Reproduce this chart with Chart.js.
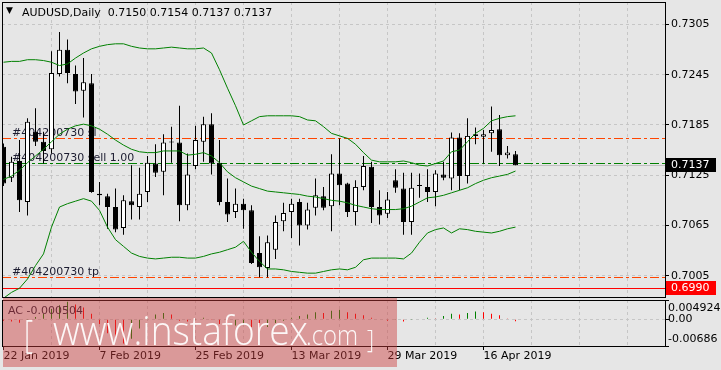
<!DOCTYPE html>
<html><head><meta charset="utf-8">
<script src="https://cdn.jsdelivr.net/npm/chart.js@4.4.1/dist/chart.umd.min.js"></script>
<style>
html,body{margin:0;padding:0;background:#e6e6e6;}
#wrap{position:relative;width:721px;height:370px;overflow:hidden;background:#e6e6e6;}
#main{position:absolute;left:0;top:0;}
#sub{position:absolute;left:0;top:298px;}
</style></head><body>
<div id="wrap"><canvas id="main" width="721" height="298"></canvas><canvas id="sub" width="721" height="72"></canvas></div>
<script>
// ---------------- data ----------------
const symbol = 'AUDUSD,Daily';
const dates = ['22 Jan 2019','23 Jan 2019','24 Jan 2019','25 Jan 2019','28 Jan 2019','29 Jan 2019','30 Jan 2019','31 Jan 2019','1 Feb 2019','4 Feb 2019',
'5 Feb 2019','6 Feb 2019','7 Feb 2019','8 Feb 2019','11 Feb 2019','12 Feb 2019','13 Feb 2019','14 Feb 2019','15 Feb 2019','18 Feb 2019',
'19 Feb 2019','20 Feb 2019','21 Feb 2019','22 Feb 2019','25 Feb 2019','26 Feb 2019','27 Feb 2019','28 Feb 2019','1 Mar 2019','4 Mar 2019',
'5 Mar 2019','6 Mar 2019','7 Mar 2019','8 Mar 2019','11 Mar 2019','12 Mar 2019','13 Mar 2019','14 Mar 2019','15 Mar 2019','18 Mar 2019',
'19 Mar 2019','20 Mar 2019','21 Mar 2019','22 Mar 2019','25 Mar 2019','26 Mar 2019','27 Mar 2019','28 Mar 2019','29 Mar 2019','1 Apr 2019',
'2 Apr 2019','3 Apr 2019','4 Apr 2019','5 Apr 2019','8 Apr 2019','9 Apr 2019','10 Apr 2019','11 Apr 2019','12 Apr 2019','15 Apr 2019',
'16 Apr 2019','17 Apr 2019','18 Apr 2019','19 Apr 2019','22 Apr 2019'];
const opens = [0.7159,0.7122,0.7142,0.7093,0.7177,0.7165,0.7156,0.7246,0.7275,0.7246,
0.7226,0.7235,0.7103,0.7100,0.7087,0.7062,0.7094,0.7087,0.7105,0.7139,
0.7129,0.7164,0.7164,0.7089,0.7136,0.7165,0.7186,0.7140,0.7093,0.7081,
0.7091,0.7083,0.7032,0.7014,0.7036,0.7070,0.7081,0.7093,0.7065,0.7086,
0.7100,0.7088,0.7127,0.7115,0.7081,0.7111,0.7135,0.7087,0.7079,0.7119,
0.7109,0.7069,0.7112,0.7111,0.7105,0.7126,0.7121,0.7170,0.7124,0.7172,
0.7171,0.7175,0.7180,0.7149,0.7150];
const highs = [0.7163,0.7147,0.7167,0.7193,0.7205,0.7177,0.7273,0.7296,0.7287,0.7256,
0.7265,0.7246,0.7117,0.7103,0.7109,0.7101,0.7137,0.7134,0.7148,0.7162,
0.7174,0.7183,0.7208,0.7151,0.7184,0.7195,0.7199,0.7167,0.7121,0.7109,
0.7097,0.7089,0.7052,0.7053,0.7077,0.7092,0.7097,0.7097,0.7092,0.7121,
0.7111,0.7150,0.7169,0.7116,0.7119,0.7148,0.7141,0.7107,0.7105,0.7132,
0.7128,0.7128,0.7127,0.7132,0.7131,0.7141,0.7176,0.7175,0.7193,0.7182,
0.7179,0.7207,0.7197,0.7160,0.7154];
const lows = [0.7112,0.7117,0.7081,0.7077,0.7160,0.7139,0.7151,0.7243,0.7235,0.7210,
0.7194,0.7104,0.7089,0.7061,0.7057,0.7054,0.7072,0.7072,0.7093,0.7123,
0.7101,0.7140,0.7070,0.7083,0.7132,0.7141,0.7126,0.7089,0.7069,0.7074,
0.7061,0.7019,0.7003,0.7003,0.7025,0.7058,0.7050,0.7041,0.7060,0.7077,
0.7083,0.7058,0.7089,0.7075,0.7065,0.7107,0.7068,0.7066,0.7074,0.7104,
0.7054,0.7054,0.7098,0.7093,0.7088,0.7119,0.7107,0.7107,0.7115,0.7162,
0.7139,0.7153,0.7136,0.7145,0.7137];
const closes = [0.7115,0.7141,0.7095,0.7189,0.7165,0.7154,0.7247,0.7275,0.7247,0.7225,
0.7236,0.7105,0.7101,0.7087,0.7060,0.7095,0.7089,0.7103,0.7140,0.7128,
0.7164,0.7165,0.7089,0.7126,0.7167,0.7186,0.7139,0.7093,0.7078,0.7091,
0.7083,0.7020,0.7015,0.7045,0.7069,0.7080,0.7091,0.7065,0.7084,0.7101,
0.7086,0.7127,0.7113,0.7081,0.7111,0.7136,0.7087,0.7077,0.7096,0.7110,
0.7069,0.7110,0.7112,0.7105,0.7127,0.7122,0.7170,0.7124,0.7172,0.7174,
0.7174,0.7179,0.7149,0.7152,0.7137];
const bbUpper = [0.7260,0.7261,0.7261,0.7263,0.7263,0.7262,0.7260,0.7256,0.7258,0.7265,
0.7271,0.7276,0.7279,0.7281,0.7282,0.7282,0.7279,0.7277,0.7276,0.7276,
0.7277,0.7278,0.7277,0.7276,0.7276,0.7277,0.7271,0.7251,0.7229,0.7208,
0.7185,0.7190,0.7195,0.7196,0.7196,0.7196,0.7196,0.7195,0.7191,0.7190,
0.7183,0.7175,0.7172,0.7169,0.7162,0.7152,0.7143,0.7141,0.7141,0.7141,
0.7142,0.7140,0.7137,0.7136,0.7139,0.7142,0.7153,0.7155,0.7165,0.7175,
0.7181,0.7190,0.7193,0.7195,0.7196];
const bbMiddle = [0.7120,0.7124,0.7131,0.7140,0.7148,0.7156,0.7165,0.7174,0.7180,0.7184,
0.7186,0.7184,0.7180,0.7174,0.7167,0.7161,0.7156,0.7153,0.7152,0.7152,
0.7154,0.7154,0.7154,0.7149,0.7150,0.7152,0.7148,0.7140,0.7129,0.7122,
0.7117,0.7112,0.7109,0.7106,0.7105,0.7104,0.7103,0.7102,0.7100,0.7099,
0.7097,0.7095,0.7094,0.7092,0.7089,0.7087,0.7085,0.7084,0.7084,0.7084,
0.7085,0.7088,0.7093,0.7098,0.7099,0.7101,0.7104,0.7107,0.7110,0.7115,
0.7119,0.7122,0.7124,0.7126,0.7130];
const bbLower = [0.6978,0.6985,0.6990,0.7001,0.7017,0.7031,0.7063,0.7087,0.7091,0.7094,
0.7097,0.7094,0.7083,0.7063,0.7048,0.7040,0.7032,0.7028,0.7026,0.7025,
0.7026,0.7027,0.7027,0.7026,0.7026,0.7028,0.7031,0.7033,0.7036,0.7039,
0.7046,0.7033,0.7022,0.7013,0.7013,0.7012,0.7010,0.7009,0.7008,0.7008,
0.7010,0.7012,0.7013,0.7012,0.7015,0.7024,0.7026,0.7026,0.7026,0.7026,
0.7025,0.7032,0.7045,0.7056,0.7060,0.7062,0.7056,0.7061,0.7060,0.7058,
0.7057,0.7056,0.7058,0.7061,0.7063];
const acValues = [-0.0004,-0.0006,-0.0009,-0.0002,0.0006,0.0014,0.0026,0.0036,0.0045,0.0038,
0.0030,0.0014,-0.0012,-0.0036,-0.0050,-0.0062,-0.0050,-0.0024,0.0004,0.0012,
0.0016,0.0012,-0.0004,-0.0006,-0.0002,0.0004,-0.0002,-0.0012,-0.0018,-0.0016,
-0.0012,-0.0020,-0.0026,-0.0020,-0.0010,-0.0004,0.0004,0.0008,0.0012,0.0018,
0.0016,0.0022,0.0024,0.0018,0.0014,0.0010,0.0004,0.0000,-0.0004,-0.0002,
-0.0006,-0.0002,0.0000,0.0004,0.0002,0.0008,0.0014,0.0012,0.0016,0.0020,
0.0018,0.0014,0.0010,0.0002,-0.000504];
const priceTicks = [0.7005,0.7065,0.7125,0.7185,0.7245,0.7305];
const acTickValues = [0.004924,0,-0.00686];
const acTickLabels = ['0.004924','0.00','-0.00686'];
const levelPrices = [0.7169,0.7140,0.7003];
const levelTexts = ['#404200730 sl','#404200730 sell 1.00','#404200730 tp'];
const bidPrice = 0.7137;
const alertPrice = 0.6990;
const watermark = ['[','www.instaforex','.com',']'];

// ---------------- layout / style ----------------
const FONT = 'DejaVu Sans';
Chart.defaults.font.family = FONT;
Chart.defaults.font.size = 11;
const GRID = '#c6c6c6';
const X_MIN = -0.1875, X_MAX = 82.6875;
const Y_MIN = 0.697950, Y_MAX = 0.733195;
const gridBars = []; for (let v = 6; v <= X_MAX; v += 6) gridBars.push(v);
const axisGridBars = [0].concat(gridBars);
const idx = opens.map((_, i) => i);
const noPad = s => { s.paddingTop = 0; s.paddingBottom = 0; s.paddingLeft = 0; s.paddingRight = 0; };

function hline(ctx, x1, x2, y, color, dash) {
  ctx.save(); ctx.strokeStyle = color; ctx.lineWidth = 1; ctx.setLineDash(dash);
  ctx.beginPath(); ctx.moveTo(x1, y); ctx.lineTo(x2, y); ctx.stroke(); ctx.restore();
}
function priceBox(ctx, y, text, bg, fg) {
  ctx.save(); ctx.fillStyle = bg; ctx.fillRect(666, Math.round(y) - 7, 50, 14);
  ctx.fillStyle = fg; ctx.font = '11px "' + FONT + '"'; ctx.textBaseline = 'middle'; ctx.textAlign = 'left';
  ctx.fillText(text, 671, Math.round(y) + 0.5); ctx.restore();
}

const mainDecor = {
  id: 'mainDecor',
  beforeDatasetsDraw(chart) {
    const {ctx, chartArea: a, scales: {y}} = chart;
    ctx.save();
    ctx.beginPath(); ctx.rect(a.left, a.top, a.right - a.left, a.bottom - a.top); ctx.clip();
    const py = v => Math.round(y.getPixelForValue(v)) + 0.5;
    hline(ctx, a.left, a.right, py(bidPrice), '#c0c0c0', []);
    const colors = ['#ff4500', '#008000', '#ff4500'];
    ctx.font = '11px "' + FONT + '"'; ctx.textBaseline = 'alphabetic';
    levelPrices.forEach((p, i) => {
      const yy = py(p);
      hline(ctx, a.left, a.right, yy, colors[i], [9, 3, 3, 3]);
      ctx.fillStyle = '#1c1c30';
      ctx.fillText(levelTexts[i], a.left + 10, yy - 3);
    });
    hline(ctx, a.left, a.right, py(alertPrice), '#ff0000', []);
    ctx.restore();
  },
  afterDraw(chart) {
    const {ctx, chartArea: a, scales: {y}} = chart;
    ctx.save();
    ctx.strokeStyle = '#000'; ctx.lineWidth = 1;
    ctx.strokeRect(a.left + 0.5, a.top + 0.5, a.right - a.left, a.bottom - a.top);
    ctx.fillStyle = '#000'; ctx.textBaseline = 'middle';
    ctx.font = '9px "' + FONT + '"'; ctx.fillText('\u25BC', 6, 11);
    ctx.font = '11px "' + FONT + '"';
    const n = opens.length - 1;
    const ohlc = [opens[n], highs[n], lows[n], closes[n]].map(v => v.toFixed(4)).join(' ');
    ctx.fillText(symbol + '  ' + ohlc, 22, 13);
    ctx.restore();
    priceBox(ctx, y.getPixelForValue(bidPrice), bidPrice.toFixed(4), '#000', '#fff');
    priceBox(ctx, y.getPixelForValue(alertPrice), alertPrice.toFixed(4), '#ff0000', '#fff');
  }
};

new Chart(document.getElementById('main'), {
  type: 'bar',
  data: {
    datasets: [
      {type: 'line', data: idx.map(i => ({x: i, y: bbUpper[i]})), borderColor: '#008000', borderWidth: 1, pointRadius: 0, tension: 0, order: 0},
      {type: 'line', data: idx.map(i => ({x: i, y: bbMiddle[i]})), borderColor: '#008000', borderWidth: 1, pointRadius: 0, tension: 0, order: 0},
      {type: 'line', data: idx.map(i => ({x: i, y: bbLower[i]})), borderColor: '#008000', borderWidth: 1, pointRadius: 0, tension: 0, order: 0},
      {data: idx.map(i => ({x: i, y: [opens[i], closes[i]]})), barThickness: 5, borderWidth: 1, borderColor: '#000',
       backgroundColor: idx.map(i => closes[i] >= opens[i] ? '#ffffff' : '#000000'), borderSkipped: false,
       grouped: false, minBarLength: 1, inflateAmount: 0, order: 1},
      {data: idx.map(i => ({x: i, y: [lows[i], highs[i]]})), barThickness: 1, borderWidth: 0, backgroundColor: '#000',
       grouped: false, inflateAmount: 0, order: 2}
    ]
  },
  options: {
    responsive: false, animation: false, events: [],
    layout: {padding: {left: 2, top: 2, right: 0, bottom: 1}},
    plugins: {legend: {display: false}, tooltip: {enabled: false}},
    scales: {
      x: {type: 'linear', offset: false, min: X_MIN, max: X_MAX, position: 'bottom',
          afterBuildTicks: s => { s.ticks = gridBars.map(v => ({value: v})); },
          ticks: {display: false}, grid: {color: GRID, drawTicks: false, offset: false},
          border: {display: false, dash: [3, 3]},
          afterFit: s => { s.height = 0; noPad(s); }},
      y: {type: 'linear', position: 'right', min: Y_MIN, max: Y_MAX,
          afterBuildTicks: s => { s.ticks = priceTicks.map(v => ({value: v})); },
          ticks: {callback: v => Number(v).toFixed(4), color: '#000', padding: 2, font: {size: 11}},
          grid: {color: GRID, tickColor: '#000', tickLength: 4, tickBorderDash: []},
          border: {display: false, dash: [3, 3]},
          afterFit: s => { s.width = 56; noPad(s); }}
    }
  },
  plugins: [mainDecor]
});

const subDecor = {
  id: 'subDecor',
  afterDraw(chart) {
    const {ctx, chartArea: a, scales: {y}} = chart;
    ctx.save();
    ctx.strokeStyle = '#000'; ctx.lineWidth = 1;
    ctx.strokeRect(a.left + 0.5, a.top + 0.5, a.right - a.left, a.bottom - a.top);
    ctx.fillStyle = '#000'; ctx.font = '11px "' + FONT + '"'; ctx.textBaseline = 'middle';
    const offs = [8, 0, -7];
    acTickValues.forEach((v, i) => {
      ctx.fillText(acTickLabels[i], 668, Math.round(y.getPixelForValue(v)) + offs[i] + 0.5);
    });
    ctx.fillStyle = '#1c1c30';
    ctx.fillText('AC ' + acValues[acValues.length - 1].toFixed(6), 8, 13);
    // watermark
    ctx.fillStyle = 'rgba(205,60,60,0.45)';
    ctx.fillRect(3, 0, 394, 69);
    ctx.fillStyle = 'rgba(255,255,255,0.92)';
    ctx.textBaseline = 'alphabetic';
    const part = (text, size, x, w, base) => {
      ctx.save();
      ctx.font = '300 ' + size + 'px "Open Sans"';
      const m = ctx.measureText(text).width;
      ctx.translate(x, base); ctx.scale(w / m, 1);
      ctx.fillText(text, 0, 0); ctx.restore();
    };
    part(watermark[0], 38, 24, 9, 50);
    part(watermark[1], 40, 53, 255, 47);
    part(watermark[2], 27, 306, 52, 47);
    part(watermark[3], 25, 367, 7, 50);
    ctx.restore();
  }
};

new Chart(document.getElementById('sub'), {
  type: 'bar',
  data: {
    datasets: [
      {data: idx.map(i => ({x: i, y: acValues[i]})), barThickness: 1, borderWidth: 0, grouped: false, inflateAmount: 0,
       backgroundColor: idx.map(i => (i > 0 && acValues[i] > acValues[i - 1]) ? '#008000' : '#ff0000')}
    ]
  },
  options: {
    responsive: false, animation: false, events: [],
    layout: {padding: {left: 2, top: 2, right: 0, bottom: 0}},
    plugins: {legend: {display: false}, tooltip: {enabled: false}},
    scales: {
      x: {type: 'linear', offset: false, min: X_MIN, max: X_MAX, position: 'bottom',
          afterBuildTicks: s => { s.ticks = axisGridBars.map(v => ({value: v})); },
          ticks: {autoSkip: false, maxRotation: 0, align: 'start', padding: 0, color: '#000', font: {size: 11},
                  callback: v => (v % 12 === 0 && dates[v]) ? dates[v] : ''},
          grid: {offset: false, color: c => (c.tick && c.tick.value === 0) ? 'rgba(0,0,0,0)' : GRID,
                 tickColor: c => (c.tick && c.tick.value % 12 === 0 && dates[c.tick.value]) ? '#000' : 'rgba(0,0,0,0)',
                 tickLength: 4, tickBorderDash: []},
          border: {display: false, dash: [3, 3]},
          afterFit: s => { s.height = 24; noPad(s); }},
      y: {type: 'linear', position: 'right', min: acTickValues[2], max: acTickValues[0],
          afterBuildTicks: s => { s.ticks = acTickValues.map(v => ({value: v})); },
          ticks: {display: false},
          grid: {color: c => (c.tick && c.tick.value === 0) ? GRID : 'rgba(0,0,0,0)', tickColor: '#000', tickLength: 4, tickBorderDash: []},
          border: {display: false, dash: [3, 3]},
          afterFit: s => { s.width = 56; noPad(s); }}
    }
  },
  plugins: [subDecor]
});
</script>
</body></html>
